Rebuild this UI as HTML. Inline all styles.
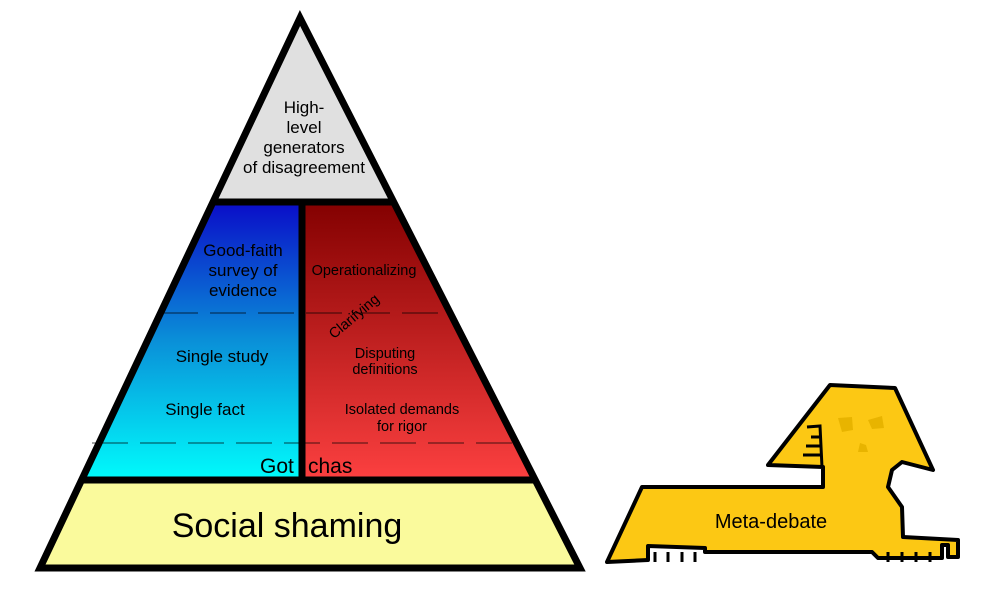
<!DOCTYPE html>
<html><head><style>body{margin:0;background:#fff}svg{display:block}text{font-family:"Liberation Sans",sans-serif;fill:#000}</style></head><body>
<svg width="1000" height="612" viewBox="0 0 1000 612">
<defs>
<linearGradient id="b" x1="0" y1="0" x2="0" y2="1"><stop offset="0" stop-color="#0a0ac8"/><stop offset="0.5" stop-color="#0a8fd8"/><stop offset="1" stop-color="#00fcfc"/></linearGradient>
<linearGradient id="r" x1="0" y1="0" x2="0" y2="1"><stop offset="0" stop-color="#820000"/><stop offset="1" stop-color="#fc4040"/></linearGradient>
</defs>
<polygon points="300,18 393,200 214,200" fill="#e0e0e0"/>
<polygon points="214,200 302,200 302,480 82,480" fill="url(#b)"/>
<polygon points="302,200 393,200 535,480 302,480" fill="url(#r)"/>
<polygon points="82,480 535,480 580,568 40,568" fill="#fafa9c"/>
<g stroke="#000" stroke-width="1" stroke-dasharray="36,12" opacity="0.7">
<line x1="162" y1="313" x2="450" y2="313"/>
<line x1="92" y1="443" x2="515" y2="443"/>
</g>
<g stroke="#000" stroke-width="7" fill="none" stroke-linejoin="miter">
<polygon points="300,18 580,568 40,568"/>
<line x1="212" y1="202" x2="395" y2="202"/>
<line x1="80" y1="480" x2="537" y2="480"/>
<line x1="302" y1="202" x2="302" y2="480"/>
</g>
<g font-size="17" text-anchor="middle">
<text x="304" y="113">High-</text><text x="304" y="133">level</text><text x="304" y="153">generators</text><text x="304" y="173">of disagreement</text>
<text x="243" y="256">Good-faith</text><text x="243" y="276">survey of</text><text x="243" y="296">evidence</text>
<text x="222" y="362">Single study</text>
<text x="205" y="415">Single fact</text>
</g>
<g font-size="14.5" text-anchor="middle">
<text x="364" y="275">Operationalizing</text>
<text x="385" y="358">Disputing</text><text x="385" y="374">definitions</text>
<text x="402" y="414">Isolated demands</text><text x="402" y="431">for rigor</text>
<text x="357" y="320" transform="rotate(-40 357 320)">Clarifying</text>
</g>
<text x="260" y="473" font-size="21">Got</text><text x="308" y="473" font-size="21">chas</text>
<text x="287" y="537" font-size="34" text-anchor="middle">Social shaming</text>
<polygon points="642,487 823,487 823,467 768,465 830,385 895,388 933,470 902,462 892,470 888,487 902,507 903,537 958,540 958,557 948,557 948,545 942,545 942,558 878,558 872,552 705,552 705,548 648,546 648,560 607,562" fill="#fcc814" stroke="#000" stroke-width="4" stroke-linejoin="round"/>
<g stroke="#000" stroke-width="3" fill="none">
<polyline points="807,427 820,426 822,467"/>
<polyline points="811,437 820,437"/><polyline points="806,446 820,446"/><polyline points="803,455 821,455"/>
<polyline points="655,552 655,562"/><polyline points="668,552 668,562"/><polyline points="682,552 682,562"/><polyline points="695,552 695,562"/>
<polyline points="888,552 888,562"/><polyline points="902,552 902,562"/><polyline points="916,552 916,562"/><polyline points="930,552 930,562"/>
</g>
<g fill="#e8b400"><polygon points="838,418 852,417 853,430 842,432"/><polygon points="868,420 882,416 884,428 872,429"/><polygon points="860,443 866,445 868,452 858,452"/></g>
<text x="771" y="528" font-size="20" text-anchor="middle">Meta-debate</text>
</svg>
</body></html>
